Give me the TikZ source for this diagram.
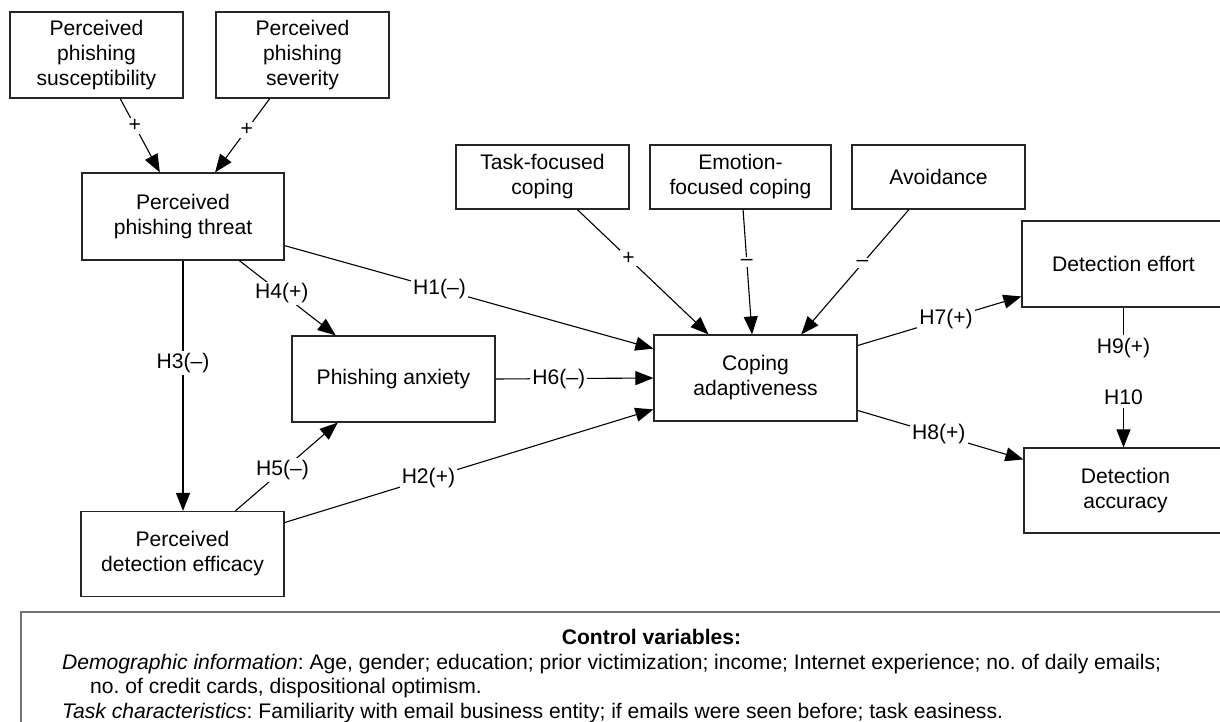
\documentclass[tikz,border=0pt]{standalone}
\usepackage{fontspec}
\setmainfont{Liberation Sans}
\usetikzlibrary{arrows.meta,calc}
\frenchspacing
\begin{document}
\begin{tikzpicture}[x=1pt,y=-1pt,
  txt/.style={font=\fontsize{21.1}{25}\selectfont},
  box/.style={txt, draw=black!85, line width=1.2pt, align=center, inner sep=0pt},
  wide/.style={box, minimum width=203pt, minimum height=86pt},
  narrow/.style={box, minimum width=173pt, minimum height=64pt},
  link/.style={line width=1.1pt, -{Triangle[length=18pt,width=14pt]}},
  lbl/.style={txt, fill=white, inner sep=2pt}]
\clip (0,0) rectangle (1220,722);

% antecedents of threat
\node[box, minimum width=173pt, minimum height=86pt] (sus) at (96.5,55) {Perceived\\phishing\\susceptibility};
\node[box, minimum width=173pt, minimum height=86pt] (sev) at (302.5,55) {Perceived\\phishing\\severity};

% left column
\node[box, minimum width=202pt, minimum height=87pt] (threat) at (183,216.5) {Perceived\\phishing threat};
\node[wide] (anx) at (393.5,379) {Phishing anxiety};
\node[box, minimum width=203pt, minimum height=85pt] (eff) at (182.5,554) {Perceived\\detection efficacy};

% coping styles
\node[narrow] (task) at (542.5,177) {Task-focused\\coping};
\node[box, minimum width=181pt, minimum height=64pt] (emo) at (740.5,177) {Emotion-\\focused coping};
\node[narrow] (avoid) at (938.5,177) {Avoidance};

% outcomes
\node[wide] (cope) at (755.5,378) {Coping\\adaptiveness};
\node[wide] (effort) at (1123.5,264) {Detection effort};
\node[box, minimum width=203pt, minimum height=85pt] (acc) at (1125.5,490.5) {Detection\\accuracy};

% paths into threat
\draw[link] ($(sus.south west)!0.636!(sus.south east)$) -- node[lbl,pos=0.37]{+} ($(threat.north west)!0.386!(threat.north east)$);
\draw[link] ($(sev.south west)!0.312!(sev.south east)$) -- node[lbl,pos=0.42]{+} ($(threat.north west)!0.658!(threat.north east)$);

% hypotheses H1--H6
\draw[link] ($(threat.north east)!0.83!(threat.south east)$) -- node[lbl,pos=0.42]{H1(–)} ($(cope.north west)!0.163!(cope.south west)$);
\draw[link] ($(eff.north east)!0.135!(eff.south east)$) -- node[lbl,pos=0.39]{H2(+)} ($(cope.north west)!0.86!(cope.south west)$);
\draw[link] (threat.south) -- node[lbl,pos=0.41]{H3(–)} (threat.south |- eff.north);
\draw[link] ($(threat.south west)!0.777!(threat.south east)$) -- node[lbl,pos=0.44]{H4(+)} ($(anx.north west)!0.217!(anx.north east)$);
\draw[link] ($(eff.north west)!0.759!(eff.north east)$) -- node[lbl,pos=0.46]{H5(–)} ($(anx.south west)!0.227!(anx.south east)$);
\draw[link] (anx.east) -- node[lbl,pos=0.40]{H6(–)} (cope.west);

% coping styles into adaptiveness
\draw[link] ($(task.south west)!0.70!(task.south east)$) -- node[lbl,pos=0.39]{+} ($(cope.north west)!0.27!(cope.north east)$);
\draw[link] ($(emo.south west)!0.514!(emo.south east)$) -- node[lbl,pos=0.42]{–} ($(cope.north west)!0.483!(cope.north east)$);
\draw[link] ($(avoid.south west)!0.33!(avoid.south east)$) -- node[lbl,pos=0.43]{–} ($(cope.north west)!0.724!(cope.north east)$);

% hypotheses H7--H10
\draw[link] ($(cope.north east)!0.128!(cope.south east)$) -- node[lbl,pos=0.54]{H7(+)} ($(effort.north west)!0.872!(effort.south west)$);
\draw[link] ($(cope.north east)!0.872!(cope.south east)$) -- node[lbl,pos=0.49]{H8(+)} ($(acc.north west)!0.14!(acc.south west)$);
\draw[link] (effort.south) -- node[lbl,pos=0.457,align=center,inner sep=3pt]{H9(+)\\[26pt]H10} (effort.south |- acc.north);

% control variables panel
\node[draw=black!55, line width=2pt, minimum width=1265pt, minimum height=160pt, anchor=north west, inner sep=0pt] (ctrl) at (20,611) {};
\node[txt, anchor=base] (ctrltitle) at (651.5,644.5) {\bfseries Control variables:};
\node[txt, anchor=base west, inner sep=0pt] (demo1) at (62,669) {\textit{Demographic information}: Age, gender; education; prior victimization; income; Internet experience; no. of daily emails;};
\node[txt, anchor=base west, inner sep=0pt] (demo2) at (90,693.5) {no. of credit cards, dispositional optimism.};
\node[txt, anchor=base west, inner sep=0pt] (taskc) at (62,718) {\textit{Task characteristics}: Familiarity with email business entity; if emails were seen before; task easiness.};
\end{tikzpicture}
\end{document}
